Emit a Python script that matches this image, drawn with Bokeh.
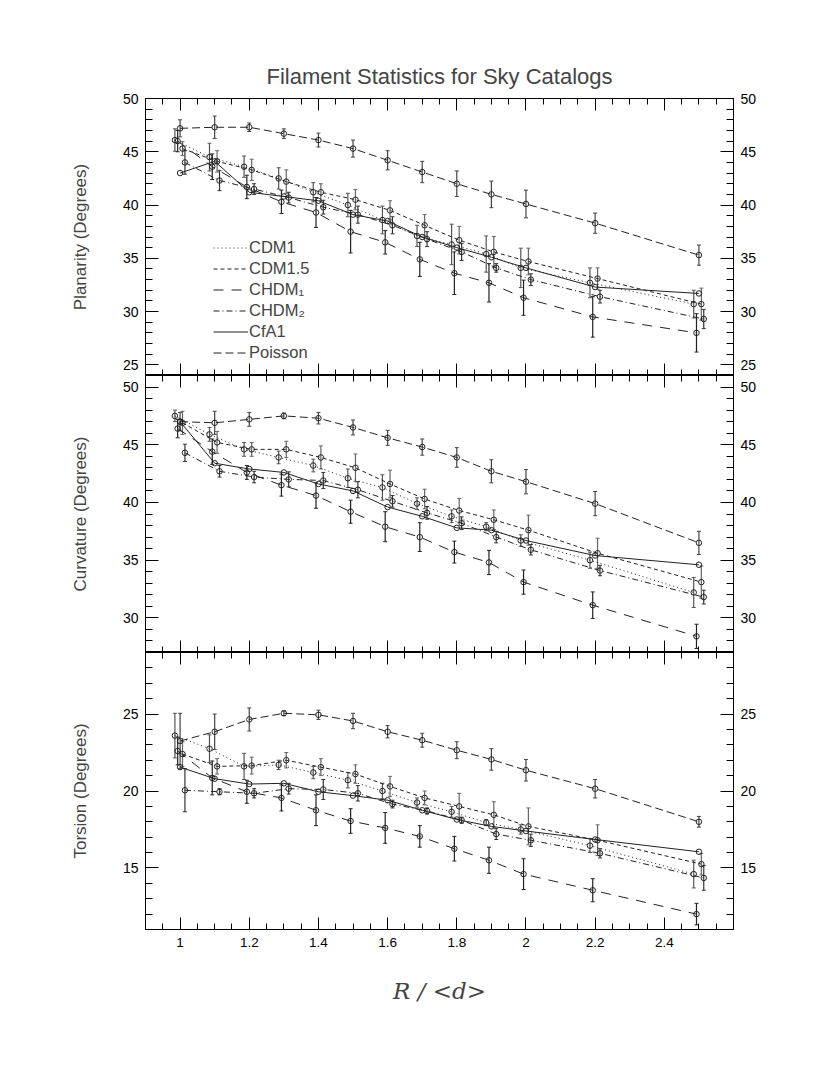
from bokeh.plotting import figure
from bokeh.models import (ColumnDataSource, LinearAxis, FixedTicker, Whisker, TeeHead,
                          Legend, LegendItem, Range1d)
from bokeh.layouts import column
from bokeh.transform import dodge
from bokeh.embed import file_html
from bokeh.resources import INLINE

# ---------------- data ----------------
R = [1.0, 1.1, 1.2, 1.3, 1.4, 1.5, 1.6, 1.7, 1.8, 1.9, 2.0, 2.2, 2.5]
x_ticks = [1.0, 1.2, 1.4, 1.6, 1.8, 2.0, 2.2, 2.4]
x_tick_labels = ["1", "1.2", "1.4", "1.6", "1.8", "2", "2.2", "2.4"]

series_names = ["CDM1", "CDM1.5", "CHDM\u2081", "CHDM\u2082", "CfA1", "Poisson"]

# Planarity
plan_cdm1 = [46.1, 44.5, 43.6, 42.5, 41.2, 40.0, 38.6, 37.1, 36.3, 35.4, 34.1, 32.7, 30.7]
plan_cdm15 = [45.3, 44.1, 43.3, 42.2, 41.2, 40.5, 39.5, 38.1, 36.7, 35.6, 34.7, 33.1, 30.7]
plan_chdm1 = [46.0, 43.6, 41.7, 40.3, 39.3, 37.5, 36.5, 34.9, 33.6, 32.7, 31.3, 29.5, 28.0]
plan_chdm2 = [44.0, 42.3, 41.5, 40.7, 39.8, 39.1, 38.1, 36.8, 35.6, 34.1, 33.0, 31.4, 29.3]
plan_cfa1 = [43.0, 44.1, 41.2, 40.8, 40.4, 39.1, 38.5, 37.0, 36.0, 35.1, 34.1, 32.3, 31.7]
plan_poisson = [47.2, 47.3, 47.3, 46.7, 46.1, 45.3, 44.2, 43.1, 42.0, 41.0, 40.1, 38.3, 35.3]
plan_cdm1_err = [1.05, 1.3, 1.0, 1.0, 0.9, 1.1, 1.3, 1.0, 1.9, 1.7, 1.85, 1.4, 1.3]
plan_cdm15_err = [0.65, 1.0, 1.0, 1.1, 0.8, 0.95, 0.9, 1.0, 1.3, 1.45, 1.25, 1.0, 1.5]
plan_chdm1_err = [1.0, 1.2, 1.1, 1.1, 1.4, 2.0, 1.1, 1.6, 2.0, 1.8, 1.65, 1.9, 1.8]
plan_chdm2_err = [1.1, 0.95, 0.5, 0.5, 0.65, 0.8, 0.8, 0.7, 0.8, 0.4, 0.55, 0.6, 0.9]
plan_poisson_err = [0.8, 1.05, 0.4, 0.45, 0.65, 0.8, 0.9, 1.0, 1.2, 1.25, 1.3, 0.95, 0.95]

# Curvature
curv_cdm1 = [47.5, 45.9, 44.6, 43.9, 43.2, 42.1, 41.3, 39.9, 38.8, 37.9, 36.7, 35.0, 32.2]
curv_cdm15 = [46.9, 45.2, 44.6, 44.6, 43.9, 43.0, 41.6, 40.3, 39.3, 38.5, 37.6, 35.6, 33.1]
curv_chdm1 = [46.4, 44.4, 42.6, 41.5, 40.6, 39.2, 37.9, 37.0, 35.7, 34.8, 33.1, 31.1, 28.4]
curv_chdm2 = [44.3, 42.7, 42.2, 42.0, 41.9, 41.1, 40.1, 39.1, 38.2, 37.0, 35.9, 34.1, 31.8]
curv_cfa1 = [47.0, 43.4, 42.9, 42.6, 41.6, 41.0, 39.6, 38.8, 37.8, 37.6, 36.7, 35.4, 34.6]
curv_poisson = [47.0, 46.9, 47.2, 47.5, 47.3, 46.5, 45.6, 44.8, 43.9, 42.7, 41.8, 39.9, 36.5]
curv_cdm1_err = [0.5, 0.6, 0.6, 0.55, 0.55, 0.8, 1.1, 0.5, 0.55, 0.35, 0.5, 0.7, 1.3]
curv_cdm15_err = [1.0, 0.95, 0.6, 0.7, 1.0, 1.2, 1.2, 0.85, 1.05, 0.85, 1.3, 1.3, 1.4]
curv_chdm1_err = [0.8, 1.1, 0.6, 0.95, 1.1, 1.0, 1.3, 1.25, 0.95, 1.05, 1.05, 1.15, 1.05]
curv_chdm2_err = [0.75, 0.5, 0.5, 0.65, 0.7, 0.7, 0.5, 0.55, 0.55, 0.5, 0.45, 0.45, 0.6]
curv_poisson_err = [0.8, 1.0, 0.6, 0.25, 0.5, 0.65, 0.65, 0.7, 0.85, 1.0, 1.05, 1.05, 1.0]

# Torsion
tors_cdm1 = [23.6, 22.75, 21.6, 21.7, 21.2, 20.7, 20.0, 19.25, 18.65, 17.95, 17.5, 16.45, 14.6]
tors_cdm15 = [22.4, 21.6, 21.65, 22.0, 21.55, 21.1, 20.3, 19.55, 19.0, 18.45, 17.7, 16.8, 15.25]
tors_chdm1 = [22.6, 20.85, 19.95, 19.55, 18.75, 18.05, 17.6, 17.05, 16.25, 15.5, 14.6, 13.55, 12.0]
tors_chdm2 = [20.05, 19.95, 19.85, 20.15, 20.1, 19.85, 19.15, 18.7, 18.1, 17.2, 16.8, 15.95, 14.35]
tors_cfa1 = [21.55, 20.8, 20.45, 20.5, 19.95, 19.7, 19.4, 18.75, 18.15, 17.7, 17.4, 16.85, 16.05]
tors_poisson = [23.25, 23.85, 24.65, 25.05, 24.95, 24.55, 23.85, 23.3, 22.65, 22.05, 21.35, 20.15, 18.0]
tors_cdm1_err = [1.45, 0.9, 0.85, 0.3, 0.4, 0.5, 0.5, 0.3, 0.35, 0.2, 0.3, 0.45, 0.9]
tors_cdm15_err = [0.8, 0.5, 0.55, 0.5, 0.55, 0.6, 0.65, 0.45, 0.85, 0.85, 1.2, 1.0, 0.7]
tors_chdm1_err = [0.9, 1.1, 0.75, 0.85, 1.0, 0.8, 1.0, 0.7, 0.8, 0.85, 1.0, 0.75, 0.7]
tors_chdm2_err = [1.4, 0.2, 0.3, 0.35, 0.65, 0.5, 0.25, 0.2, 0.2, 0.35, 0.4, 0.3, 0.8]
tors_poisson_err = [1.8, 1.15, 0.75, 0.15, 0.3, 0.5, 0.4, 0.45, 0.55, 0.7, 0.7, 0.6, 0.35]

# ---------------- styles ----------------
FONT = "Liberation Sans"
# small horizontal dodge (data units) so overlapping series stay visible
OFFSETS = [-0.015, 0.007, -0.007, 0.014, 0.0, 0.0]
DASHES = ["1 3", "4 3", "10 8", "6 3 1 3", "solid", "8 4"]
ERR_COLORS = ["#555555", "#666666", "#222222", "#333333", None, "#444444"]

FRAME_W, FRAME_H = 588, 277
MB_LEFT, MB_RIGHT = 145, 60
xr = Range1d(0.9, 2.6)
x_minor = [round(0.9 + 0.05 * i, 2) for i in range(35)]


def style_axis(ax, ticks, minor, major_len, minor_len, labels, size="14px", standoff=7):
    ax.ticker = FixedTicker(ticks=ticks, minor_ticks=minor)
    ax.major_tick_in = major_len
    ax.major_tick_out = 0
    ax.minor_tick_in = minor_len
    ax.minor_tick_out = 0
    ax.axis_line_color = "black"
    ax.major_tick_line_color = "black"
    ax.minor_tick_line_color = "black"
    ax.major_label_text_font = FONT
    if labels:
        ax.major_label_text_color = "black"
        ax.major_label_text_font_size = size
        ax.major_label_standoff = standoff
    else:
        ax.major_label_text_color = None
        ax.major_label_text_font_size = "0px"
        ax.major_label_standoff = 0


def panel(ylabel, yr, yticks, values, errors, top=False, bottom=False):
    p = figure(frame_width=FRAME_W, frame_height=FRAME_H, x_range=xr,
               y_range=Range1d(*yr), output_backend="svg", toolbar_location=None,
               x_axis_location=None, y_axis_location=None,
               min_border_left=MB_LEFT, min_border_right=MB_RIGHT,
               min_border_top=98 if top else 0, min_border_bottom=105 if bottom else 0)
    p.xgrid.visible = False
    p.ygrid.visible = False
    p.outline_line_color = "black"
    p.background_fill_color = "white"

    y_minor = list(range(yr[0], yr[1] + 1))
    left = LinearAxis(axis_label=ylabel)
    style_axis(left, yticks, y_minor, 13, 7, True)
    left.axis_label_text_font = FONT
    left.axis_label_text_font_size = "17px"
    left.axis_label_text_font_style = "normal"
    left.axis_label_standoff = 30
    p.add_layout(left, "left")
    right = LinearAxis()
    style_axis(right, yticks, y_minor, 13, 7, True)
    p.add_layout(right, "right")

    above = LinearAxis()
    style_axis(above, x_ticks, x_minor, 12, 6, False)
    p.add_layout(above, "above")
    below = LinearAxis()
    style_axis(below, x_ticks, x_minor, 12, 6, bottom, size="13.5px", standoff=8)
    if bottom:
        below.major_label_overrides = dict(zip(x_ticks, x_tick_labels))
        below.axis_label = "R / <d>"
        below.axis_label_text_font = "DejaVu Serif"
        below.axis_label_text_font_style = "italic"
        below.axis_label_text_font_size = "23px"
        below.axis_label_standoff = 28
    p.add_layout(below, "below")

    line_renderers = []
    for i, name in enumerate(series_names):
        src_data = dict(x=R, y=values[i])
        err = errors[i]
        if err is not None:
            src_data["upper"] = [v + e for v, e in zip(values[i], err)]
            src_data["lower"] = [v - e for v, e in zip(values[i], err)]
        src = ColumnDataSource(src_data)
        xs = dodge("x", OFFSETS[i])
        lr = p.line(x=xs, y="y", source=src, line_color="#222222", line_width=1,
                    line_dash=DASHES[i])
        line_renderers.append(lr)
        if err is not None:
            col = ERR_COLORS[i]
            w = Whisker(base=xs, upper="upper", lower="lower", source=src,
                        line_color=col, line_width=1.2,
                        upper_head=TeeHead(size=4, line_color=col, line_width=1),
                        lower_head=TeeHead(size=4, line_color=col, line_width=1))
            p.add_layout(w)
        p.scatter(x=xs, y="y", source=src, marker="circle", size=5.5,
                  fill_alpha=0, line_color="#222222", line_width=1)
    return p, line_renderers


p1, lines1 = panel("Planarity (Degrees)", (24, 50), [25, 30, 35, 40, 45, 50],
                   [plan_cdm1, plan_cdm15, plan_chdm1, plan_chdm2, plan_cfa1, plan_poisson],
                   [plan_cdm1_err, plan_cdm15_err, plan_chdm1_err, plan_chdm2_err, None, plan_poisson_err],
                   top=True)
p2, _ = panel("Curvature (Degrees)", (27, 51), [30, 35, 40, 45, 50],
              [curv_cdm1, curv_cdm15, curv_chdm1, curv_chdm2, curv_cfa1, curv_poisson],
              [curv_cdm1_err, curv_cdm15_err, curv_chdm1_err, curv_chdm2_err, None, curv_poisson_err])
p3, _ = panel("Torsion (Degrees)", (11, 29), [15, 20, 25],
              [tors_cdm1, tors_cdm15, tors_chdm1, tors_chdm2, tors_cfa1, tors_poisson],
              [tors_cdm1_err, tors_cdm15_err, tors_chdm1_err, tors_chdm2_err, None, tors_poisson_err],
              bottom=True)

p1.title.text = "Filament Statistics for Sky Catalogs"
p1.title.align = "center"
p1.title.text_font = FONT
p1.title.text_font_size = "22px"
p1.title.text_font_style = "normal"
p1.title.standoff = 20

legend = Legend(items=[LegendItem(label=n, renderers=[r]) for n, r in zip(series_names, lines1)],
                location=(68, 12), orientation="vertical")
legend.border_line_alpha = 0
legend.background_fill_alpha = 0
legend.label_text_font = FONT
legend.label_text_font_size = "16.5px"
legend.glyph_width = 35
legend.glyph_height = 21
legend.label_height = 21
legend.label_standoff = 1
legend.spacing = 0
legend.padding = 0
legend.margin = 0
p1.add_layout(legend)

layout = column(p1, p2, p3, spacing=0)
open("out.html", "w").write(file_html(layout, INLINE))
